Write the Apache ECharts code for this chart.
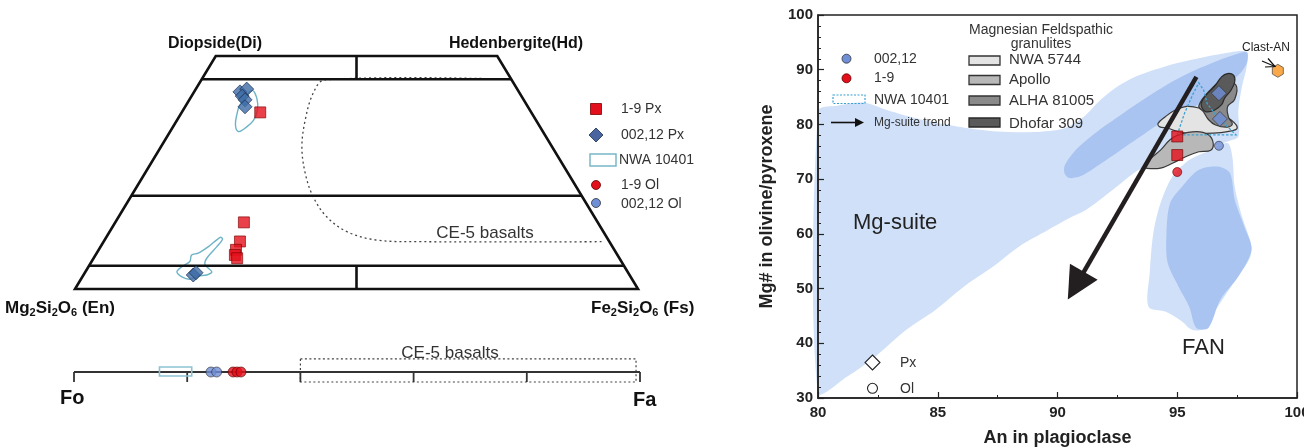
<!DOCTYPE html>
<html>
<head>
<meta charset="utf-8">
<script src="https://cdn.jsdelivr.net/npm/echarts@6/dist/echarts.min.js"></script>
<style>
  html, body { margin: 0; padding: 0; background: #fff; }
  #chart { width: 1304px; height: 448px; }
</style>
</head>
<body>
<div id="chart"></div>
<script>
// ---------- left: pyroxene quadrilateral, points are [Fs + Wo/2, Wo] ----------
const quadOutline = [[0, 0], [100, 0], [75, 50], [25, 50]];
const woLines = [[[22.5, 45], [77.5, 45]], [[10, 20], [90, 20]], [[2.5, 5], [97.5, 5]]];
const midTicks = [[[50, 45], [50, 50]], [[50, 0], [50, 5]]];
const px19 = [[32.9, 37.9], [30.0, 14.3], [29.3, 10.2], [28.6, 8.4], [28.4, 7.3], [28.8, 6.6]];
const px00212 = [[29.3, 42.3], [30.5, 42.9], [29.7, 41.4], [30.2, 40.6], [30.2, 39.1], [21.0, 3.0], [21.5, 3.5]];
const nwaUpper = [[31.4, 42.6], [32.3, 40.9], [32.4, 38.4], [31.7, 36.2], [30.2, 34.5], [29.0, 33.8],
  [28.5, 35.2], [28.8, 37.7], [29.3, 39.5]];
const nwaLower = [[18.1, 3.7], [19.0, 4.8], [20.4, 5.9], [20.7, 7.3], [21.9, 7.7], [23.7, 9.1], [25.8, 11.1],
  [26.2, 10.7], [25.2, 9.1], [23.4, 6.6], [23.1, 5.2], [24.3, 3.7], [23.4, 3.0], [21.9, 2.8], [20.4, 2.1], [19.0, 2.6]];
const ce5Curve = [[77.5, 45], [44.4, 44.9], [42.3, 42.0], [40.9, 36.3], [40.3, 30.5], [40.9, 24.8], [42.3, 19.8],
  [44.7, 15.5], [48.3, 12.3], [53.6, 10.5], [61.9, 10.15], [93.8, 10.15]];

// ---------- left: olivine bar, Fa mol% ----------
const olTicks = [0, 20, 40, 60, 80, 100];
const olNwaRange = [15.1, 20.8];
const ol00212 = [24.2, 25.2];
const ol19 = [28.1, 28.8, 29.5];
const olCe5Range = [40, 99.3];

// ---------- right: An in plagioclase vs Mg# ----------
const xTicks = [80, 85, 90, 95, 100];
const yTicks = [30, 40, 50, 60, 70, 80, 90, 100];
const mgSuiteOuter = [[80.0, 31.0], [80.0, 82.4], [80.8, 83.4], [81.9, 84.0], [82.9, 82.6], [84.3, 80.9], [86.0, 79.5],
  [87.5, 78.7], [89.0, 78.6], [90.3, 79.3], [91.1, 81.4], [91.8, 84.5], [92.6, 87.2], [93.4, 89.0], [94.5, 90.6],
  [95.6, 91.8], [96.7, 92.8], [97.9, 93.3], [97.9, 90.6], [97.7, 86.9], [97.55, 82.6], [97.55, 77.8], [97.1, 76.9],
  [96.5, 76.0], [95.8, 75.0], [94.5, 73.5], [93.4, 71.7], [92.3, 68.0], [91.2, 64.4], [90.5, 62.9], [89.6, 60.7],
  [88.4, 57.7], [87.3, 54.0], [86.1, 50.4], [84.9, 46.1], [83.7, 42.5], [82.4, 37.6], [81.25, 34.0]];
const mgSuiteInner = [[90.3, 71.0], [90.3, 72.5], [90.8, 75.5], [91.6, 78.5], [92.5, 81.3], [93.4, 84.0], [94.4, 86.8],
  [95.4, 89.2], [96.5, 91.3], [97.3, 92.6], [97.9, 93.2], [97.9, 91.2], [97.55, 89.0], [97.1, 87.6], [96.1, 84.2],
  [95.2, 82.2], [94.2, 80.0], [93.4, 77.6], [92.6, 75.2], [91.8, 72.8], [91.0, 70.6], [90.5, 70.2]];
const fanOuter = [[93.8, 46.7], [93.85, 52.8], [94.0, 60.1], [94.3, 65.6], [94.8, 70.5], [95.5, 73.5], [96.4, 75.3],
  [97.1, 76.6], [97.3, 74.1], [97.4, 68.6], [97.7, 63.2], [98.1, 57.7], [98.0, 55.3], [97.25, 50.4], [96.5, 45.5],
  [96.0, 42.5], [95.6, 42.5], [95.2, 44.0], [94.5, 45.8]];
const fanInner = [[94.7, 65.6], [95.2, 68.6], [95.9, 71.7], [96.7, 72.3], [97.2, 71.1], [97.4, 66.2], [97.8, 61.3],
  [98.1, 57.1], [97.55, 52.2], [96.8, 48.0], [96.3, 42.8], [95.8, 42.8], [95.5, 46.7], [95.05, 50.4], [94.6, 54.7],
  [94.55, 60.1]];
const nwa5744 = [[94.2, 80.2], [94.5, 81.4], [94.9, 82.6], [95.4, 83.3], [95.9, 83.0], [96.3, 82.0], [96.8, 81.7],
  [97.25, 80.8], [97.5, 79.3], [97.1, 78.7], [96.5, 78.4], [95.8, 78.4], [95.2, 78.5], [94.6, 79.3], [94.25, 79.6]];
const apollo = [[93.65, 72.3], [93.9, 73.8], [94.3, 75.3], [94.7, 77.2], [95.05, 78.1], [95.8, 78.7], [96.3, 78.1],
  [96.5, 76.6], [96.4, 75.3], [95.9, 75.0], [95.35, 74.1], [94.8, 72.9], [94.3, 72.0], [93.7, 72.0]];
const alha81005 = [[95.9, 83.4], [96.4, 86.4], [96.9, 88.0], [97.45, 87.2], [97.4, 84.6], [97.1, 83.2], [97.15, 81.2],
  [97.3, 80.1], [97.1, 79.5], [96.6, 79.9], [96.3, 80.9], [96.1, 82.3]];
const dhofar309 = [[96.0, 83.9], [96.15, 85.1], [96.55, 86.9], [96.85, 88.7], [97.1, 89.3], [97.35, 89.0], [97.4, 87.8],
  [97.25, 86.3], [96.98, 84.8], [96.85, 83.6], [96.55, 82.6], [96.2, 82.3], [96.05, 82.9]];
const nwa10401 = [[95.0, 78.1], [95.3, 82.0], [95.65, 85.5], [95.9, 87.6], [96.1, 86.3], [96.25, 83.8], [96.6, 81.8],
  [97.0, 80.0], [97.45, 78.1]];
const trend = [[95.8, 88.7], [90.43, 48.0]];
const olR00212 = [[96.74, 76.1]];
const olR19 = [[95.0, 71.3]];
const pxR19 = [[95.0, 77.8], [95.0, 74.4]];
const pxR00212 = [[96.74, 85.7], [96.78, 81.0]];
const clastAN = [[99.2, 89.8]];

const FONT = '"Liberation Sans", Arial, Helvetica, sans-serif';
const BLUE_PT = '#6f8fd6';
const RED_PT = '#e3101c';

function shape(grid, pts, style, z, closed, smooth) {
  return {
    type: 'custom', xAxisIndex: grid, yAxisIndex: grid, z: z, silent: true, clip: false,
    data: [pts[0]],
    renderItem: function (params, api) {
      return {
        type: closed ? 'polygon' : 'polyline',
        shape: { points: pts.map(function (p) { return api.coord(p); }), smooth: smooth || 0 },
        style: style
      };
    }
  };
}

function txt(x, y, text, font, extra) {
  return {
    type: 'text', x: x, y: y, silent: true, z: 100,
    style: Object.assign({ text: text, font: font, fill: '#222', align: 'left', verticalAlign: 'middle' }, extra || {})
  };
}

function formula(x, y, parts) {
  return {
    type: 'text', x: x, y: y, silent: true, z: 100,
    style: {
      text: parts, align: 'left', verticalAlign: 'middle',
      rich: {
        a: { font: 'bold 17px ' + FONT, fill: '#111', lineHeight: 20, verticalAlign: 'middle' },
        s: { font: 'bold 11px ' + FONT, fill: '#111', lineHeight: 11, verticalAlign: 'bottom' }
      }
    }
  };
}

const black = { stroke: '#111', lineWidth: 2.6, fill: 'none' };
const series = [];

// left quadrilateral
series.push(shape(0, quadOutline, black, 3, true));
woLines.concat(midTicks).forEach(function (l) { series.push(shape(0, l, black, 3, false)); });
series.push(shape(0, ce5Curve, { stroke: '#444', lineWidth: 1.3, lineDash: [2, 3], fill: 'none' }, 2, false, 0.35));
series.push(shape(0, nwaUpper, { stroke: '#6db3c6', lineWidth: 1.4, fill: 'none' }, 2, true, 0.4));
series.push(shape(0, nwaLower, { stroke: '#6db3c6', lineWidth: 1.4, fill: 'none' }, 2, true, 0.3));
series.push({
  type: 'scatter', xAxisIndex: 0, yAxisIndex: 0, z: 5, silent: true, symbol: 'rect', symbolSize: 11,
  itemStyle: { color: RED_PT, borderColor: '#7a0000', borderWidth: 0.8 }, data: px19
});
series.push({
  type: 'scatter', xAxisIndex: 0, yAxisIndex: 0, z: 5, silent: true, symbol: 'diamond', symbolSize: 14,
  itemStyle: { color: '#3d6ca6', borderColor: '#1d3050', borderWidth: 0.9 }, data: px00212
});

// olivine bar
series.push(shape(1, [[0, 5], [100, 5]], { stroke: '#333', lineWidth: 2.2, fill: 'none' }, 3, false));
series.push({
  type: 'custom', xAxisIndex: 1, yAxisIndex: 1, z: 3, silent: true, clip: false,
  data: olTicks.map(function (t) { return [t, 5]; }),
  renderItem: function (params, api) {
    const a = api.coord([api.value(0), 5]), b = api.coord([api.value(0), 2.5]);
    return { type: 'line', shape: { x1: a[0], y1: a[1], x2: b[0], y2: b[1] }, style: { stroke: '#333', lineWidth: 1.8 } };
  }
});
series.push(shape(1, [[olCe5Range[0], 8.3], [olCe5Range[1], 8.3], [olCe5Range[1], 2.5], [olCe5Range[0], 2.5]],
  { stroke: '#444', lineWidth: 1.2, lineDash: [2, 2.5], fill: 'none' }, 2, true));
series.push(shape(1, [[olNwaRange[0], 6.25], [olNwaRange[1], 6.25], [olNwaRange[1], 4.0], [olNwaRange[0], 4.0]],
  { stroke: '#8cc3d2', lineWidth: 1.6, fill: 'none' }, 4, true));
series.push({
  type: 'scatter', xAxisIndex: 1, yAxisIndex: 1, z: 5, silent: true, symbolSize: 10,
  itemStyle: { color: BLUE_PT, borderColor: '#333', borderWidth: 0.8 }, data: ol00212.map(function (v) { return [v, 5]; })
});
series.push({
  type: 'scatter', xAxisIndex: 1, yAxisIndex: 1, z: 5, silent: true, symbolSize: 10,
  itemStyle: { color: RED_PT, borderColor: '#5a0000', borderWidth: 0.8 }, data: ol19.map(function (v) { return [v, 5]; })
});

// right panel fields
series.push(shape(2, mgSuiteOuter, { fill: '#cfe0f8' }, 1, true, 0.3));
series.push(shape(2, fanOuter, { fill: '#cfe0f8' }, 1, true, 0.3));
series.push(shape(2, mgSuiteInner, { fill: '#a9c4f1' }, 2, true, 0.3));
series.push(shape(2, fanInner, { fill: '#a9c4f1' }, 2, true, 0.3));
series.push(shape(2, nwa5744, { fill: '#e4e4e4', stroke: '#3a3a3a', lineWidth: 1.2 }, 3, true, 0.4));
series.push(shape(2, apollo, { fill: '#b8b8b8', stroke: '#3a3a3a', lineWidth: 1.2 }, 3, true, 0.4));
series.push(shape(2, alha81005, { fill: '#8a8a8a', stroke: '#3a3a3a', lineWidth: 1.2 }, 3, true, 0.4));
series.push(shape(2, dhofar309, { fill: '#5a5a5a', stroke: '#2a2a2a', lineWidth: 1.2 }, 3, true, 0.4));
series.push(shape(2, nwa10401, { stroke: '#3aa0d2', lineWidth: 1.3, lineDash: [2.5, 1.8], fill: 'none' }, 4, true));
series.push({
  type: 'custom', xAxisIndex: 2, yAxisIndex: 2, z: 5, silent: true, clip: false, data: [trend[0]],
  renderItem: function (params, api) {
    const a = api.coord(trend[0]), b = api.coord(trend[1]);
    const dx = b[0] - a[0], dy = b[1] - a[1], L = Math.hypot(dx, dy), ux = dx / L, uy = dy / L;
    const hl = 32, hw = 16, bx = b[0] - ux * hl, by = b[1] - uy * hl;
    return {
      type: 'group', children: [
        { type: 'line', shape: { x1: a[0], y1: a[1], x2: bx + ux * 2, y2: by + uy * 2 }, style: { stroke: '#231f20', lineWidth: 4.5 } },
        { type: 'polygon', shape: { points: [[b[0], b[1]], [bx - uy * hw, by + ux * hw], [bx + uy * hw, by - ux * hw]] }, style: { fill: '#231f20' } }
      ]
    };
  }
});
series.push({
  type: 'scatter', xAxisIndex: 2, yAxisIndex: 2, z: 6, silent: true, symbol: 'rect', symbolSize: 11,
  itemStyle: { color: RED_PT, borderColor: '#6a0000', borderWidth: 0.8 }, data: pxR19
});
series.push({
  type: 'scatter', xAxisIndex: 2, yAxisIndex: 2, z: 6, silent: true, symbol: 'diamond', symbolSize: 15,
  itemStyle: { color: BLUE_PT, borderColor: '#333', borderWidth: 0.8 }, data: pxR00212
});
series.push({
  type: 'scatter', xAxisIndex: 2, yAxisIndex: 2, z: 6, silent: true, symbolSize: 9,
  itemStyle: { color: BLUE_PT, borderColor: '#333', borderWidth: 0.8 }, data: olR00212
});
series.push({
  type: 'scatter', xAxisIndex: 2, yAxisIndex: 2, z: 6, silent: true, symbolSize: 9,
  itemStyle: { color: RED_PT, borderColor: '#6a0000', borderWidth: 0.8 }, data: olR19
});
series.push({
  type: 'scatter', xAxisIndex: 2, yAxisIndex: 2, z: 6, silent: true,
  symbol: 'path://M0,-1 L0.866,-0.5 L0.866,0.5 L0,1 L-0.866,0.5 L-0.866,-0.5 Z', symbolSize: [11, 13],
  itemStyle: { color: '#f7941d', borderColor: '#333', borderWidth: 0.8 }, data: clastAN
});

const hidden = { show: false };
const axisText = { fontFamily: FONT, fontWeight: 'bold', fontSize: 15, color: '#222' };

const graphic = [
  // left panel labels
  txt(215, 44, 'Diopside(Di)', 'bold 16px ' + FONT, { align: 'center', fill: '#111' }),
  txt(516, 44, 'Hedenbergite(Hd)', 'bold 16px ' + FONT, { align: 'center', fill: '#111' }),
  formula(5, 308, '{a|Mg}{s|2}{a|Si}{s|2}{a|O}{s|6}{a| (En)}'),
  formula(591, 308, '{a|Fe}{s|2}{a|Si}{s|2}{a|O}{s|6}{a| (Fs)}'),
  txt(485, 233, 'CE-5 basalts', '17px ' + FONT, { align: 'center', fill: '#333' }),
  txt(450, 353, 'CE-5 basalts', '17px ' + FONT, { align: 'center', fill: '#333' }),
  txt(60, 398, 'Fo', 'bold 20px ' + FONT, { fill: '#111' }),
  txt(633, 400, 'Fa', 'bold 20px ' + FONT, { fill: '#111' }),
  // left legend
  { type: 'rect', silent: true, z: 100, shape: { x: 590.5, y: 103.5, width: 11, height: 11 }, style: { fill: RED_PT, stroke: '#7a0000', lineWidth: 0.8 } },
  { type: 'polygon', silent: true, z: 100, shape: { points: [[596, 128], [603, 135], [596, 142], [589, 135]] }, style: { fill: '#4a64a0', stroke: '#1d3050', lineWidth: 0.8 } },
  { type: 'rect', silent: true, z: 100, shape: { x: 590, y: 154, width: 26, height: 12 }, style: { fill: 'none', stroke: '#7ab8c8', lineWidth: 1.5 } },
  { type: 'circle', silent: true, z: 100, shape: { cx: 596, cy: 185, r: 4.5 }, style: { fill: RED_PT, stroke: '#5a0000', lineWidth: 0.8 } },
  { type: 'circle', silent: true, z: 100, shape: { cx: 596, cy: 203, r: 4.5 }, style: { fill: BLUE_PT, stroke: '#333', lineWidth: 0.8 } },
  txt(621, 109, '1-9 Px', '14px ' + FONT, { fill: '#333' }),
  txt(621, 135, '002,12 Px', '14px ' + FONT, { fill: '#333' }),
  txt(619, 160, 'NWA 10401', '14px ' + FONT, { fill: '#333' }),
  txt(621, 185, '1-9 Ol', '14px ' + FONT, { fill: '#333' }),
  txt(621, 204, '002,12 Ol', '14px ' + FONT, { fill: '#333' }),
  // right legend
  { type: 'circle', silent: true, z: 100, shape: { cx: 846.5, cy: 58.7, r: 4.5 }, style: { fill: BLUE_PT, stroke: '#333', lineWidth: 0.8 } },
  { type: 'circle', silent: true, z: 100, shape: { cx: 846.5, cy: 78.3, r: 4.5 }, style: { fill: RED_PT, stroke: '#5a0000', lineWidth: 0.8 } },
  { type: 'rect', silent: true, z: 100, shape: { x: 833, y: 95, width: 32, height: 8.5 }, style: { fill: 'none', stroke: '#3aa0d2', lineWidth: 1.2, lineDash: [2, 1.5] } },
  { type: 'line', silent: true, z: 100, shape: { x1: 831, y1: 122.5, x2: 856, y2: 122.5 }, style: { stroke: '#111', lineWidth: 1.6 } },
  { type: 'polygon', silent: true, z: 100, shape: { points: [[864, 122.5], [855, 118], [855, 127]] }, style: { fill: '#111' } },
  txt(874, 58.7, '002,12', '14px ' + FONT, { fill: '#333' }),
  txt(874, 78.3, '1-9', '14px ' + FONT, { fill: '#333' }),
  txt(874, 100, 'NWA 10401', '14px ' + FONT, { fill: '#333' }),
  txt(874, 122.5, 'Mg-suite trend', '12px ' + FONT, { fill: '#333' }),
  txt(1041, 30, 'Magnesian Feldspathic', '14px ' + FONT, { align: 'center', fill: '#333' }),
  txt(1041, 44, 'granulites', '14px ' + FONT, { align: 'center', fill: '#333' }),
  { type: 'rect', silent: true, z: 100, shape: { x: 969, y: 56, width: 31, height: 9 }, style: { fill: '#e4e4e4', stroke: '#333', lineWidth: 1.3 } },
  { type: 'rect', silent: true, z: 100, shape: { x: 969, y: 75.5, width: 31, height: 9 }, style: { fill: '#b8b8b8', stroke: '#333', lineWidth: 1.3 } },
  { type: 'rect', silent: true, z: 100, shape: { x: 969, y: 96, width: 31, height: 9 }, style: { fill: '#8a8a8a', stroke: '#333', lineWidth: 1.3 } },
  { type: 'rect', silent: true, z: 100, shape: { x: 969, y: 118, width: 31, height: 9 }, style: { fill: '#5a5a5a', stroke: '#2a2a2a', lineWidth: 1.3 } },
  txt(1009, 60, 'NWA 5744', '15px ' + FONT, { fill: '#333' }),
  txt(1009, 80, 'Apollo', '15px ' + FONT, { fill: '#333' }),
  txt(1009, 101, 'ALHA 81005', '15px ' + FONT, { fill: '#333' }),
  txt(1009, 123.5, 'Dhofar 309', '15px ' + FONT, { fill: '#333' }),
  { type: 'polygon', silent: true, z: 100, shape: { points: [[872.5, 355], [880, 362.5], [872.5, 370], [865, 362.5]] }, style: { fill: '#fff', stroke: '#222', lineWidth: 1.1 } },
  { type: 'circle', silent: true, z: 100, shape: { cx: 872.5, cy: 388.3, r: 5 }, style: { fill: '#fff', stroke: '#222', lineWidth: 1.1 } },
  txt(900, 363, 'Px', '14px ' + FONT, { fill: '#333' }),
  txt(900, 389, 'Ol', '14px ' + FONT, { fill: '#333' }),
  txt(853, 223, 'Mg-suite', '22px ' + FONT, { fill: '#222' }),
  txt(1182, 348, 'FAN', '22px ' + FONT, { fill: '#222' }),
  txt(1242, 48, 'Clast-AN', '12px ' + FONT, { fill: '#222' }),
  { type: 'line', silent: true, z: 100, shape: { x1: 1262, y1: 61, x2: 1275, y2: 66.5 }, style: { stroke: '#111', lineWidth: 1.2 } },
  { type: 'polyline', silent: true, z: 100, shape: { points: [[1268, 58.5], [1275, 66.5], [1265, 67]] }, style: { stroke: '#111', lineWidth: 1.2, fill: 'none' } }
];

const option = {
  backgroundColor: '#fff',
  animation: false,
  textStyle: { fontFamily: FONT },
  grid: [
    { left: 75, top: 56, width: 563, height: 233, outerBoundsMode: 'none' },
    { left: 74, top: 352, width: 566, height: 40, outerBoundsMode: 'none' },
    { left: 818, top: 15, width: 479, height: 383, outerBoundsMode: 'none', show: true, borderColor: '#222', borderWidth: 1.5, backgroundColor: 'transparent', z: 8 }
  ],
  xAxis: [
    { gridIndex: 0, type: 'value', min: 0, max: 100, show: false },
    { gridIndex: 1, type: 'value', min: 0, max: 100, show: false },
    {
      gridIndex: 2, type: 'value', min: xTicks[0], max: xTicks[xTicks.length - 1], interval: 5, z: 8,
      name: 'An in plagioclase', nameLocation: 'middle', nameGap: 31,
      nameTextStyle: { fontFamily: FONT, fontWeight: 'bold', fontSize: 18, color: '#222' },
      axisLine: { lineStyle: { color: '#222', width: 1.5 } },
      axisTick: { inside: true, length: 6, lineStyle: { color: '#222', width: 1.2 } },
      minorTick: { show: true, splitNumber: 2, length: 3, lineStyle: { color: '#222', width: 1 } },
      splitLine: hidden, axisLabel: Object.assign({ margin: 7 }, axisText)
    }
  ],
  yAxis: [
    { gridIndex: 0, type: 'value', min: 0, max: 50, show: false },
    { gridIndex: 1, type: 'value', min: 0, max: 10, show: false },
    {
      gridIndex: 2, type: 'value', min: yTicks[0], max: yTicks[yTicks.length - 1], interval: 10, z: 8,
      name: 'Mg# in olivine/pyroxene', nameLocation: 'middle', nameGap: 42,
      nameTextStyle: { fontFamily: FONT, fontWeight: 'bold', fontSize: 18, color: '#222' },
      axisLine: { lineStyle: { color: '#222', width: 1.5 } },
      axisTick: { inside: true, length: 6, lineStyle: { color: '#222', width: 1.2 } },
      minorTick: { show: true, splitNumber: 5, length: 3, lineStyle: { color: '#222', width: 1 } },
      splitLine: hidden, axisLabel: Object.assign({ margin: 5 }, axisText)
    }
  ],
  series: series,
  graphic: graphic
};

const chart = echarts.init(document.getElementById('chart'));
chart.setOption(option);
</script>
</body>
</html>
